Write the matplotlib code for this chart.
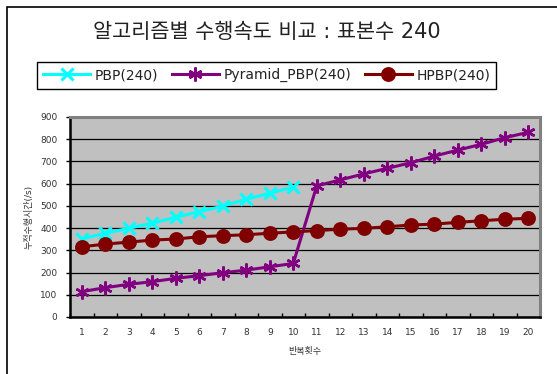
import numpy as np
import matplotlib.pyplot as plt
from matplotlib.patches import Rectangle
from matplotlib.lines import Line2D

plt.rcParams['font.family'] = ['DejaVu Sans', 'Noto Sans CJK KR']

###DATA###
runs = np.arange(1, 21)
pbp = [352, 377, 399, 422, 449, 474, 499, 530, 557, 584]
pyramid_pbp = [114, 132, 147, 159, 174, 186, 199, 211, 226, 241,
               590, 617, 644, 669, 694, 724, 751, 777, 807, 831]
hpbp = [316, 328, 337, 346, 351, 361, 366, 370, 377, 383,
        389, 395, 399, 406, 414, 418, 426, 433, 440, 444]

series = [('PBP(240)', pbp, '#00FFFF', 'x', 9, 2.2),
          ('Pyramid_PBP(240)', pyramid_pbp, '#800080', (6, 2, 0), 10, 1.8),
          ('HPBP(240)', hpbp, '#800000', 'o', 8.5, 2.2)]

##### PLOT #####
fig = plt.figure(figsize=(5.57, 3.74), dpi=100)

# outer chart frame (open at right and bottom)
fig.patches.append(Rectangle((7/557, -0.1), 1.2, (374-7)/374 + 0.1, transform=fig.transFigure,
                             fill=False, ec='k', lw=1.2))

ax = fig.add_axes([70/557, 57/374, 470/557, 200/374])
ax.set_facecolor('#C0C0C0')

for label, vals, col, mk, ms, mw in series:
    ax.plot(runs[:len(vals)], vals, color=col, lw=2.2, marker=mk, ms=ms,
            mew=mw, mfc=col, mec=col, label=label, clip_on=False)

ax.set_xlim(0.5, 20.5)
ax.set_ylim(0, 900)

# grid lines
ax.set_yticks(np.arange(0, 901, 100))
ax.yaxis.grid(True, color='k', lw=0.9)
ax.set_axisbelow(True)

# ticks between categories, labels at category centres
ax.set_xticks(np.arange(0.5, 20.6, 1))
ax.set_xticklabels([])
ax.set_xticks(runs, minor=True)
ax.set_xticklabels([str(r) for r in runs], minor=True)
ax.tick_params(axis='x', which='major', direction='in', length=3, width=1, color='k')
ax.tick_params(axis='x', which='minor', length=0, pad=8, labelsize=6.5, labelcolor='#333333')
ax.tick_params(axis='y', direction='out', length=3, width=1, pad=6, labelsize=6.5, labelcolor='#333333')

# 3d-ish border
ax.spines['left'].set_color('k')
ax.spines['left'].set_linewidth(1.8)
ax.spines['bottom'].set_color('k')
ax.spines['bottom'].set_linewidth(1.8)
ax.spines['top'].set_color('#808080')
ax.spines['top'].set_linewidth(2.2)
ax.spines['right'].set_color('#808080')
ax.spines['right'].set_linewidth(2.2)

ax.set_xlabel('반복횟수', fontsize=6.5, color='#333333', labelpad=7)
ax.set_ylabel('누적수행시간(/s)', fontsize=6.5, color='#333333', labelpad=5)

fig.text(267/557, 1 - 32/374, '알고리즘별 수행속도 비교 : 표본수 240', ha='center', va='center',
         fontsize=15, color='#222222')

##### LEGEND #####
handles = [Line2D([], [], color=col, lw=2.2, marker=mk, ms=ms, mew=mw, mfc=col, mec=col)
           for _, _, col, mk, ms, mw in series]
leg = fig.legend(handles, [s[0] for s in series], loc='center', ncol=3,
                 bbox_to_anchor=(266.5/557, 1 - 75.3/374), fontsize=10, numpoints=1,
                 handlelength=3.4, handletextpad=0.3, columnspacing=1.0,
                 fancybox=False, edgecolor='k', framealpha=1, borderpad=0.45)
leg.get_frame().set_linewidth(1.0)
for t in leg.get_texts():
    t.set_color('#222222')

plt.savefig('out.png', dpi=100)
